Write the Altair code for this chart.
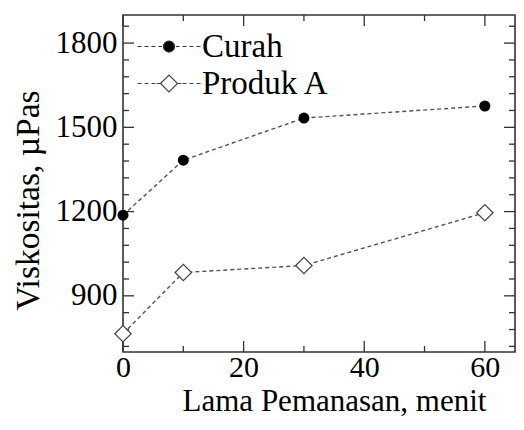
import altair as alt
import pandas as pd

# ---- data ----
minutes = [0, 10, 30, 60]
curah = [1187, 1383, 1533, 1576]
produk_a = [765, 983, 1008, 1196]
series_names = ["Curah", "Produk A"]

x_ticks_major = [0, 20, 40, 60]
x_ticks_minor = [10, 30, 50]
y_ticks_major = [900, 1200, 1500, 1800]
y_ticks_minor = [720, 780, 840, 960, 1020, 1080, 1140, 1260, 1320, 1380,
                 1440, 1560, 1620, 1680, 1740, 1860]

df = pd.DataFrame({
    "x": minutes * 2,
    "y": curah + produk_a,
    "series": [series_names[0]] * len(minutes) + [series_names[1]] * len(minutes),
})

W, H = 392, 337
FONT = "Liberation Serif"
xs = alt.Scale(domain=[0, 65], nice=False, zero=False)
ys = alt.Scale(domain=[700, 1900], nice=False, zero=False)

x_axis = alt.Axis(values=x_ticks_major, ticks=False, domain=False, grid=False,
                  labelFont=FONT, labelFontSize=30, labelColor="black",
                  labelPadding=24, labelBaseline="alphabetic", labelFlush=False,
                  format="d",
                  title="Lama Pemanasan, menit", titleFont=FONT,
                  titleFontSize=31, titleFontWeight="normal", titleColor="black",
                  titleX=211, titleY=58.2, titleBaseline="alphabetic",
                  titleAlign="center")
y_axis = alt.Axis(values=y_ticks_major, ticks=False, domain=False, grid=False,
                  labelFont=FONT, labelFontSize=31, labelColor="black",
                  labelPadding=6, labelFlush=False, format="d",
                  title="Viskositas, µPas", titleFont=FONT,
                  titleFontSize=33.5, titleFontWeight="normal", titleColor="black",
                  titleAngle=270, titleX=-85, titleY=185,
                  titleBaseline="alphabetic", titleAlign="center")

X = lambda f: alt.X(f, scale=xs, axis=x_axis)
Y = lambda f: alt.Y(f, scale=ys, axis=y_axis)

base = alt.Chart(df)

lines = base.mark_line(strokeDash=[4, 3], color="#555",
                       strokeWidth=1.4).encode(
    x=X("x:Q"), y=Y("y:Q"), detail="series:N")

pts_c = base.transform_filter(alt.datum.series == series_names[0]).mark_point(
    shape="circle", filled=True, color="black", size=121, opacity=1).encode(
    x=X("x:Q"), y=Y("y:Q"))

pts_p = base.transform_filter(alt.datum.series == series_names[1]).mark_point(
    shape="diamond", filled=True, fill="white", stroke="#444", strokeWidth=1.2,
    size=270, opacity=1).encode(
    x=X("x:Q"), y=Y("y:Q"))

# legend symbols: dashed line + marker, as custom symbol paths (units of sqrt(size)/2)
dash_c = "M-3.7,0H-3.23M-2.88,0H-2.41M-2.06,0H-1.59M-1.24,0H-0.82M0.82,0H1.24M1.59,0H2.06M2.41,0H2.88M3.23,0H3.7"
circ = "M0.65,0A0.65,0.65 0 1,1 -0.65,0A0.65,0.65 0 1,1 0.65,0Z"
dash_p = "M-3.7,0H-3.23M-2.88,0H-2.41M-2.06,0H-1.59M-1.47,0H-1.0M1.0,0H1.47M1.59,0H2.06M2.41,0H2.88M3.23,0H3.7"
diam = "M-1,0L0,-1L1,0L0,1Z"
path_c = dash_c + circ
path_p = dash_p + diam

leg = alt.Legend(title=None, orient="none", legendX=29.5, legendY=15,
                 symbolSize=289, labelOffset=16.5, rowPadding=3, padding=0,
                 labelFont=FONT, labelFontSize=33, labelColor="black",
                 labelLimit=400, symbolStrokeWidth=1.2, symbolOpacity=1)

legend_layer = base.transform_filter("false").mark_point(
    filled=True, strokeWidth=1.2, opacity=1).encode(
    x=X("x:Q"), y=Y("y:Q"),
    shape=alt.Shape("series:N", scale=alt.Scale(domain=series_names, range=[path_c, path_p]), legend=leg),
    fill=alt.Fill("series:N", scale=alt.Scale(domain=series_names, range=["black", "white"]), legend=leg),
    stroke=alt.Stroke("series:N", scale=alt.Scale(domain=series_names, range=["#333", "#444"]), legend=leg),
)

# inward ticks on all four sides
def xticks(vals, length):
    d = alt.Chart(pd.DataFrame({"x": vals}))
    bot = d.mark_rule(color="#333", strokeWidth=1.3).encode(
        x=X("x:Q"), y=alt.value(H - length), y2=alt.value(H))
    top = d.mark_rule(color="#333", strokeWidth=1.3).encode(
        x=X("x:Q"), y=alt.value(0), y2=alt.value(length))
    return [bot, top]

def yticks(vals, length):
    d = alt.Chart(pd.DataFrame({"y": vals}))
    left = d.mark_rule(color="#333", strokeWidth=1.3).encode(
        y=Y("y:Q"), x=alt.value(0), x2=alt.value(length))
    right = d.mark_rule(color="#333", strokeWidth=1.3).encode(
        y=Y("y:Q"), x=alt.value(W - length), x2=alt.value(W))
    return [left, right]

tick_layers = (xticks(x_ticks_major, 11) + xticks(x_ticks_minor, 6)
               + yticks(y_ticks_major, 11) + yticks(y_ticks_minor, 6))

chart = alt.layer(lines, *tick_layers, pts_c, pts_p, legend_layer).properties(
    width=W, height=H,
    autosize=alt.AutoSizeParams(type="none"),
    padding={"left": 115, "top": 7, "right": 1, "bottom": 65},
    background="white",
).configure_view(stroke="#333", strokeWidth=1.6)

chart.save("out.html", embed_options={"renderer": "svg", "actions": False})
